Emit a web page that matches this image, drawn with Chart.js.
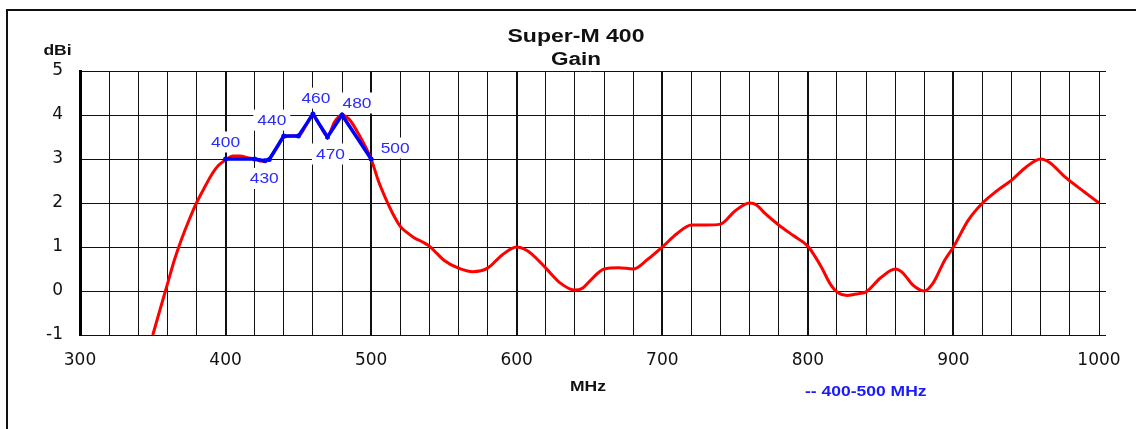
<!DOCTYPE html>
<html>
<head>
<meta charset="utf-8">
<script src="https://cdn.jsdelivr.net/npm/chart.js@4.4.0/dist/chart.umd.min.js"></script>
<style>
  html, body { margin: 0; padding: 0; background: #fff; }
  #wrap { width: 1136px; height: 429px; }
</style>
</head>
<body>
<div id="wrap"><canvas id="c" width="1136" height="429"></canvas></div>
<script>
// ---------- data ----------
const redFreq = [350,355,360,365,370,375,380,385,390,395,400,405,410,415,420,425,430,435,440,445,450,455,460,465,470,475,480,485,490,495,500,505,510,515,520,525,530,535,540,545,550,560,570,580,590,600,605,610,620,630,640,645,650,660,670,680,690,700,710,720,730,740,750,760,765,770,780,790,800,805,810,815,820,827,835,840,850,860,865,872,880,886,894,900,910,920,930,940,950,960,966,977,990,1000];
const redGain = [-1.0,-0.42,0.15,0.72,1.2,1.62,2.0,2.32,2.62,2.85,2.98,3.07,3.07,3.03,3.0,2.95,3.0,3.25,3.5,3.52,3.52,3.75,4.0,3.75,3.52,3.85,4.0,3.9,3.65,3.35,3.0,2.5,2.1,1.75,1.47,1.32,1.2,1.12,1.02,0.86,0.7,0.52,0.44,0.52,0.82,1.0,0.96,0.85,0.52,0.18,0.02,0.06,0.22,0.5,0.53,0.5,0.72,1.0,1.3,1.5,1.5,1.52,1.82,2.0,1.95,1.78,1.5,1.26,1.02,0.78,0.5,0.18,-0.02,-0.1,-0.06,-0.02,0.3,0.5,0.42,0.14,0.0,0.18,0.7,1.0,1.6,2.0,2.28,2.52,2.82,3.0,2.92,2.58,2.25,2.0];

const blueFreq = [400,420,427,430,440,450,460,470,480,500];
const blueGain = [3.0,3.0,2.96,2.99,3.52,3.52,4.02,3.5,4.0,3.0];

const blueLabelFreq = [400,430,440,460,470,480,500];
const blueLabelText = ["400","430","440","460","470","480","500"];

const xMajorTicks = [300,400,500,600,700,800,900,1000];
const yTicks = [-1,0,1,2,3,4,5];

const titleLines = ["Super-M 400","Gain"];
const yTitle = "dBi";
const xTitle = "MHz";
const legendText = "-- 400-500 MHz";

// ---------- placement of annotation labels (pixel offsets from their point) ----------
const labelOffsets = {
  "400": [0,-17], "430": [-5,19], "440": [-12,-16], "460": [3,-16],
  "470": [3,17], "480": [15,-12], "500": [24,-11]
};

function txt(ctx, s, x, y, font, color, sx, align) {
  ctx.save();
  ctx.translate(x, y);
  ctx.scale(sx || 1, 1);
  ctx.font = font;
  ctx.fillStyle = color;
  ctx.textAlign = align || 'center';
  ctx.textBaseline = 'alphabetic';
  ctx.fillText(s, 0, 0);
  ctx.restore();
}

const LABEL_FONT = "14px 'Liberation Sans'";
const LABEL_SX = 1.24;
const LABEL_COLOR = "#2b2bff";

const deco = {
  id: 'deco',
  beforeDraw(chart) {
    const ctx = chart.ctx;
    ctx.save();
    ctx.fillStyle = '#fff';
    ctx.fillRect(0, 0, chart.width, chart.height);
    ctx.fillStyle = '#111';
    ctx.fillRect(6, 9, chart.width - 6, 2);
    ctx.fillRect(6, 9, 2, chart.height - 9);
    ctx.restore();
  },
  beforeDatasetsDraw(chart) {
    const ctx = chart.ctx;
    const xs = chart.scales.x, ys = chart.scales.y;
    ctx.save();
    ctx.strokeStyle = '#111';
    ctx.lineWidth = 1;
    yTicks.forEach(v => {
      const py = Math.round(ys.getPixelForValue(v)) + 0.5;
      ctx.beginPath();
      ctx.moveTo(chart.chartArea.right, py);
      ctx.lineTo(chart.chartArea.right + 7, py);
      ctx.stroke();
    });
    ctx.font = LABEL_FONT;
    blueLabelFreq.forEach((f, i) => {
      const idx = blueFreq.indexOf(f);
      const t = blueLabelText[i];
      const off = labelOffsets[t];
      const cx = xs.getPixelForValue(f) + off[0];
      const cy = ys.getPixelForValue(blueGain[idx]) + off[1];
      const w = ctx.measureText(t).width * LABEL_SX + 8;
      ctx.fillStyle = '#fff';
      ctx.fillRect(cx - w / 2, cy - 10.5, w, 21);
    });
    ctx.restore();
  },
  afterDatasetsDraw(chart) {
    const ctx = chart.ctx;
    const xs = chart.scales.x, ys = chart.scales.y;
    blueLabelFreq.forEach((f, i) => {
      const idx = blueFreq.indexOf(f);
      const t = blueLabelText[i];
      const off = labelOffsets[t];
      const cx = xs.getPixelForValue(f) + off[0];
      const cy = ys.getPixelForValue(blueGain[idx]) + off[1];
      txt(ctx, t, cx, cy + 5, LABEL_FONT, LABEL_COLOR, LABEL_SX, 'center');
    });
  },
  afterDraw(chart) {
    const ctx = chart.ctx;
    txt(ctx, titleLines[0], 576, 42, "bold 18px 'Liberation Sans'", '#111', 1.28, 'center');
    txt(ctx, titleLines[1], 576, 65, "bold 18px 'Liberation Sans'", '#111', 1.25, 'center');
    txt(ctx, yTitle, 57.5, 55, "bold 14px 'Liberation Sans'", '#111', 1.25, 'center');
    txt(ctx, xTitle, 588, 391, "bold 14px 'Liberation Sans'", '#111', 1.25, 'center');
    txt(ctx, legendText, 805, 396, "bold 14px 'Liberation Sans'", '#1a1aff', 1.25, 'left');
  }
};

Chart.defaults.font.family = "'DejaVu Sans'";

new Chart(document.getElementById('c'), {
  type: 'line',
  data: {
    datasets: [
      {
        label: legendText,
        data: blueFreq.map((f, i) => ({ x: f, y: blueGain[i] })),
        borderColor: '#0000ff',
        backgroundColor: '#0000ff',
        borderWidth: 3.5,
        pointRadius: 2.5,
        pointBorderWidth: 0,
        tension: 0,
        fill: false
      },
      {
        label: 'Gain',
        data: redFreq.map((f, i) => ({ x: f, y: redGain[i] })),
        borderColor: '#ff0000',
        borderWidth: 3,
        pointRadius: 0,
        cubicInterpolationMode: 'monotone',
        fill: false
      }
    ]
  },
  options: {
    responsive: false,
    animation: false,
    devicePixelRatio: 1,
    layout: { padding: { top: 71, right: 37, bottom: 0, left: 0 } },
    plugins: { legend: { display: false }, title: { display: false }, tooltip: { enabled: false } },
    scales: {
      x: {
        type: 'linear',
        min: 300, max: 1000,
        afterFit(scale) { scale.height = 94; },
        afterBuildTicks(scale) {
          const t = [];
          for (let v = 300; v <= 1000; v += 20) t.push({ value: v });
          scale.ticks = t;
        },
        ticks: {
          autoSkip: false, maxRotation: 0, minRotation: 0,
          padding: 15,
          color: '#111',
          font: { size: 17 },
          callback: (v) => xMajorTicks.includes(v) ? String(v) : ''
        },
        grid: {
          drawTicks: false,
          color: '#111',
          lineWidth: (c) => {
            const v = c.tick ? c.tick.value : 0;
            return (v % 100 === 0 && v < 1000) ? 2 : 1;
          }
        },
        border: { display: true, color: '#111', width: 1 }
      },
      y: {
        min: -1, max: 5,
        afterFit(scale) { scale.width = 80; },
        afterBuildTicks(scale) { scale.ticks = yTicks.map(v => ({ value: v })); },
        ticks: { padding: 17, color: '#111', font: { size: 17 } },
        grid: { drawTicks: false, color: '#111', lineWidth: 1 },
        border: { display: true, color: '#000', width: 3 }
      }
    }
  },
  plugins: [deco]
});
</script>
</body>
</html>
